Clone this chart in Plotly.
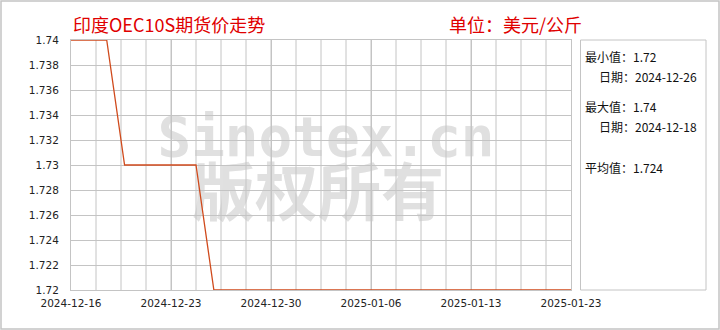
import numpy as np
import plotly.graph_objects as go

# ---- data ----
dates = ["2024-12-16", "2024-12-17", "2024-12-18", "2024-12-19", "2024-12-20",
         "2024-12-23", "2024-12-24", "2024-12-25", "2024-12-26", "2024-12-27",
         "2024-12-30", "2024-12-31", "2025-01-01", "2025-01-02", "2025-01-03",
         "2025-01-06", "2025-01-07", "2025-01-08", "2025-01-09", "2025-01-10",
         "2025-01-13", "2025-01-14", "2025-01-15", "2025-01-16", "2025-01-17",
         "2025-01-20", "2025-01-21", "2025-01-22", "2025-01-23"]
prices = [1.74, 1.74, 1.74, 1.73, 1.73,
          1.73, 1.73, 1.73, 1.72, 1.72,
          1.72, 1.72, 1.72, 1.72, 1.72,
          1.72, 1.72, 1.72, 1.72, 1.72,
          1.72, 1.72, 1.72, 1.72, 1.72,
          1.72, 1.72, 1.72, 1.72]
x_tick_labels = ["2024-12-16", "2024-12-23", "2024-12-30", "2025-01-06", "2025-01-13", "2025-01-23"]
y_tick_vals = [1.72, 1.722, 1.724, 1.726, 1.728, 1.73, 1.732, 1.734, 1.736, 1.738, 1.74]
y_tick_labels = ["1.72", "1.722", "1.724", "1.726", "1.728", "1.73", "1.732", "1.734", "1.736", "1.738", "1.74"]
title_text = "印度OEC10S期货价走势"
unit_text = "单位：美元/公斤"

idx = list(range(len(dates)))
n_last = idx[-1]
n_cols = 20
xt_vals = [float(v) for v in np.linspace(0, n_last, len(x_tick_labels))]
x_grid_vals = [float(v) for v in np.linspace(0, n_last, n_cols + 1)]
y_lo, y_hi = y_tick_vals[0], y_tick_vals[-1]

pmin = min(prices)
pmax = max(prices)
min_date = dates[prices.index(pmin)]
max_date = dates[len(prices) - 1 - prices[::-1].index(pmax)]
avg = sum(prices) / len(prices)

CJK = "Noto Sans CJK SC"
GRID = "#c4c4c4"

fig = go.Figure()

# watermark (under the grid)
fig.add_shape(type="rect", xref="paper", yref="paper", x0=0.41, x1=0.61, y0=0.60, y1=0.66,
              line=dict(width=0), fillcolor="rgba(0,0,0,0)", layer="below",
              label=dict(text="Sinotex.cn", textposition="middle center",
                         font=dict(family="DejaVu Sans Mono", size=56, color="#e0e0e0", weight="bold")))
fig.add_shape(type="rect", xref="paper", yref="paper", x0=0.394, x1=0.594, y0=0.34, y1=0.40,
              line=dict(width=0), fillcolor="rgba(0,0,0,0)", layer="below",
              label=dict(text="版权所有", textposition="middle center",
                         font=dict(family=CJK, size=63, color="#e0e0e0", weight="bold")))

# vertical grid lines as one line trace (drawn before the price line)
gxs, gys = [], []
for gx in x_grid_vals[1:-1]:
    gxs += [gx, gx, None]
    gys += [y_lo, y_hi, None]
fig.add_trace(go.Scatter(x=gxs, y=gys, mode="lines", line=dict(color=GRID, width=1),
                         hoverinfo="skip", showlegend=False, connectgaps=False))

fig.add_trace(go.Scatter(x=idx, y=prices, mode="lines",
                         line=dict(color="#d04a1c", width=1.3),
                         hoverinfo="skip", showlegend=False))

fig.update_layout(
    width=720, height=330,
    margin=dict(l=71, r=149, t=40, b=40),
    paper_bgcolor="white",
    plot_bgcolor="rgba(0,0,0,0)",
    showlegend=False,
    font=dict(family=CJK, size=11, color="#222"),
    xaxis=dict(
        range=[0, n_last], tickmode="array", tickvals=xt_vals, ticktext=x_tick_labels,
        showgrid=True, gridcolor=GRID, gridwidth=1,
        showline=True, linecolor=GRID, mirror=True, ticks="", zeroline=False,
        tickfont=dict(family="DejaVu Sans", size=10.5, color="#222"),
        ticklabelstandoff=3,
    ),
    yaxis=dict(
        range=[y_lo, y_hi], tickmode="array", tickvals=y_tick_vals, ticktext=y_tick_labels,
        showgrid=True, gridcolor=GRID, gridwidth=1,
        showline=True, linecolor=GRID, mirror=True, ticks="", zeroline=False,
        tickfont=dict(family="DejaVu Sans", size=10.5, color="#222"),
        ticklabelstandoff=9,
    ),
)

# right info box
fig.add_shape(type="rect", xref="paper", yref="paper", x0=1.019, x1=1.27, y0=0, y1=1,
              line=dict(color=GRID, width=1), fillcolor="rgba(0,0,0,0)")
# outer border
fig.add_shape(type="rect", xref="paper", yref="paper", x0=-0.14, x1=1.296, y0=-0.156, y1=1.156,
              line=dict(color=GRID, width=1.5), fillcolor="rgba(0,0,0,0)")

# titles
fig.add_annotation(text=title_text, xref="paper", yref="paper", x=0.0, y=1.062,
                   xanchor="left", yanchor="middle", showarrow=False,
                   font=dict(family=CJK, size=18, color="#e00000"))
fig.add_annotation(text=unit_text, xref="paper", yref="paper", x=0.752, y=1.062,
                   xanchor="left", yanchor="middle", showarrow=False,
                   font=dict(family=CJK, size=18, color="#e00000"))

info = [
    ("最小值：" + f"{pmin:g}", 0.024, 0.935),
    ("日期：" + min_date, 0.052, 0.856),
    ("最大值：" + f"{pmax:g}", 0.024, 0.735),
    ("日期：" + max_date, 0.052, 0.656),
    ("平均值：" + f"{avg:.3f}", 0.024, 0.492),
]
for txt, dx, yy in info:
    fig.add_annotation(text=txt, xref="paper", yref="paper", x=1.0 + dx, y=yy,
                       xanchor="left", yanchor="middle", showarrow=False,
                       font=dict(family=CJK, size=12, color="#111"))

fig.write_html("out.html")
